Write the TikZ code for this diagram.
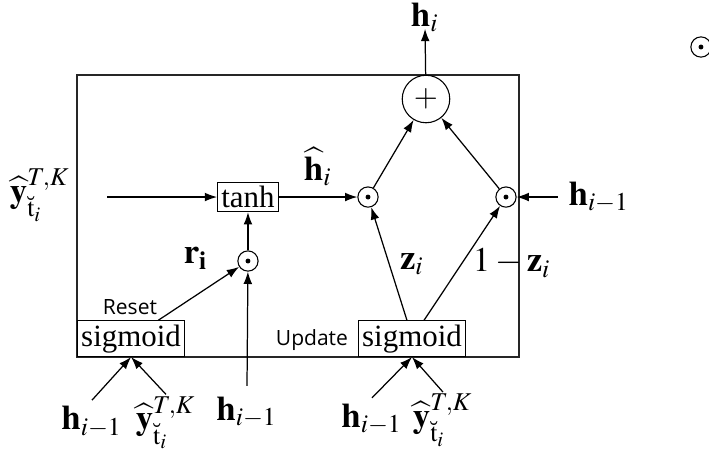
\documentclass[tikz,border=0pt]{standalone}
\usepackage{amsmath}
\usepackage{mathptmx}
\usepackage{fontspec}
\setmainfont{Liberation Serif}
\newfontfamily\gatefont{Open Sans}
\usepackage{tikz}
\usetikzlibrary{arrows.meta, positioning, calc}
\newcommand{\yhatin}{$\widehat{\mathbf{y}}^{T,K}_{\breve{\mathrm{t}}_i}$}
\newcommand{\hprev}{$\mathbf{h}_{i-1}$}
\tikzset{
  gate/.style={draw, inner sep=1.2pt, font=\normalsize},
  opdot/.style={draw, circle, minimum size=2.3mm, inner sep=0pt,
                path picture={\fill (path picture bounding box.center) circle (0.28mm);}},
  opsum/.style={draw, circle, minimum size=5.4mm, inner sep=0pt, font=\normalsize},
  gatelabel/.style={font=\gatefont\fontsize{6.8}{8}\selectfont},
  signal/.style={inner sep=0.5pt},
  arrow/.style={-{Latex[length=1.4mm,width=1mm]}, line width=0.4pt}
}

\begin{document}
\begin{tikzpicture}[line width=0.35pt, font=\fontsize{11.2}{13}\selectfont]
    \useasboundingbox (0,0) rectangle (8.057,-5.239);
    \draw[draw=black!85] (0.875,-0.852) rectangle (5.898,-4.057);

    % cell operations
    \node[opsum] (plus) at (4.841,-1.125) {$+$};
    \node[opdot] (dotL) at (4.182,-2.239) {};
    \node[opdot] (dotR) at (5.750,-2.239) {};
    \node[opdot] (dotreset) at (2.818,-2.966) {};
    \node[gate] (tanh) at (2.818,-2.239) {tanh};
    \node[gate, anchor=south west] (sigL) at (0.875,-4.057) {sigmoid};
    \node[gate, anchor=south] (sigU) at (4.682,-4.057) {sigmoid};
    \node[gatelabel] (reset) at (1.477,-3.489) {Reset};
    \node[gatelabel] (update) at (3.545,-3.864) {Update};
    \node[opdot] (legend) at (7.966,-0.534) {};

    % inputs and output
    \node[signal] (hout) at (4.830,-0.200) {$\mathbf{h}_i$};
    \node[signal, anchor=base] (yin) at (0.455,-2.300) {\yhatin};
    \coordinate (yinstart) at (1.216,-2.239);
    \node[signal, anchor=west] (hR) at (6.440,-2.239) {\hprev};
    \node[signal, anchor=base] (hL) at (1.045,-4.886) {\hprev};
    \node[signal, anchor=base] (yL) at (1.886,-4.886) {\yhatin};
    \node[signal, anchor=base] (hM) at (2.807,-4.773) {\hprev};
    \node[signal, anchor=base] (hU) at (4.227,-4.860) {\hprev};
    \node[signal, anchor=base] (yU) at (5.034,-4.860) {\yhatin};

    \draw[arrow] (plus) -- ([yshift=0.06cm]hout.south);
    \draw[arrow] (yinstart) -- (tanh);
    \draw[arrow] (tanh) -- node[above]{$\widehat{\mathbf{h}}_i$} (dotL);
    \draw[arrow] ([xshift=-0.1cm]hR.west) -- (dotR);
    \draw[arrow] (dotL) -- (plus);
    \draw[arrow] (dotR) -- (plus);
    \draw[arrow] (dotreset) -- (tanh);
    \draw[arrow] ($(sigL.north)!0.5!(sigL.north east)$) -- node[pos=0.75, above left]{$\mathbf{r_i}$} (dotreset);
    \draw[arrow] ([yshift=0.1cm]hM.north) -- (dotreset);
    \draw[arrow] ([xshift=-0.057cm]sigU.north) -- node[right]{$\mathbf{z}_i$} (dotL);
    \draw[arrow] ([xshift=0.136cm]sigU.north) -- node[right]{$1-\mathbf{z}_i$} (dotR);
    \draw[arrow] ([yshift=0.05cm]hL.north) -- (sigL.south);
    \draw[arrow] (yL.north) -- (sigL.south);
    \draw[arrow] ([yshift=0.05cm]hU.north) -- (sigU.south);
    \draw[arrow] (yU.north) -- (sigU.south);
  \end{tikzpicture}
\end{document}
